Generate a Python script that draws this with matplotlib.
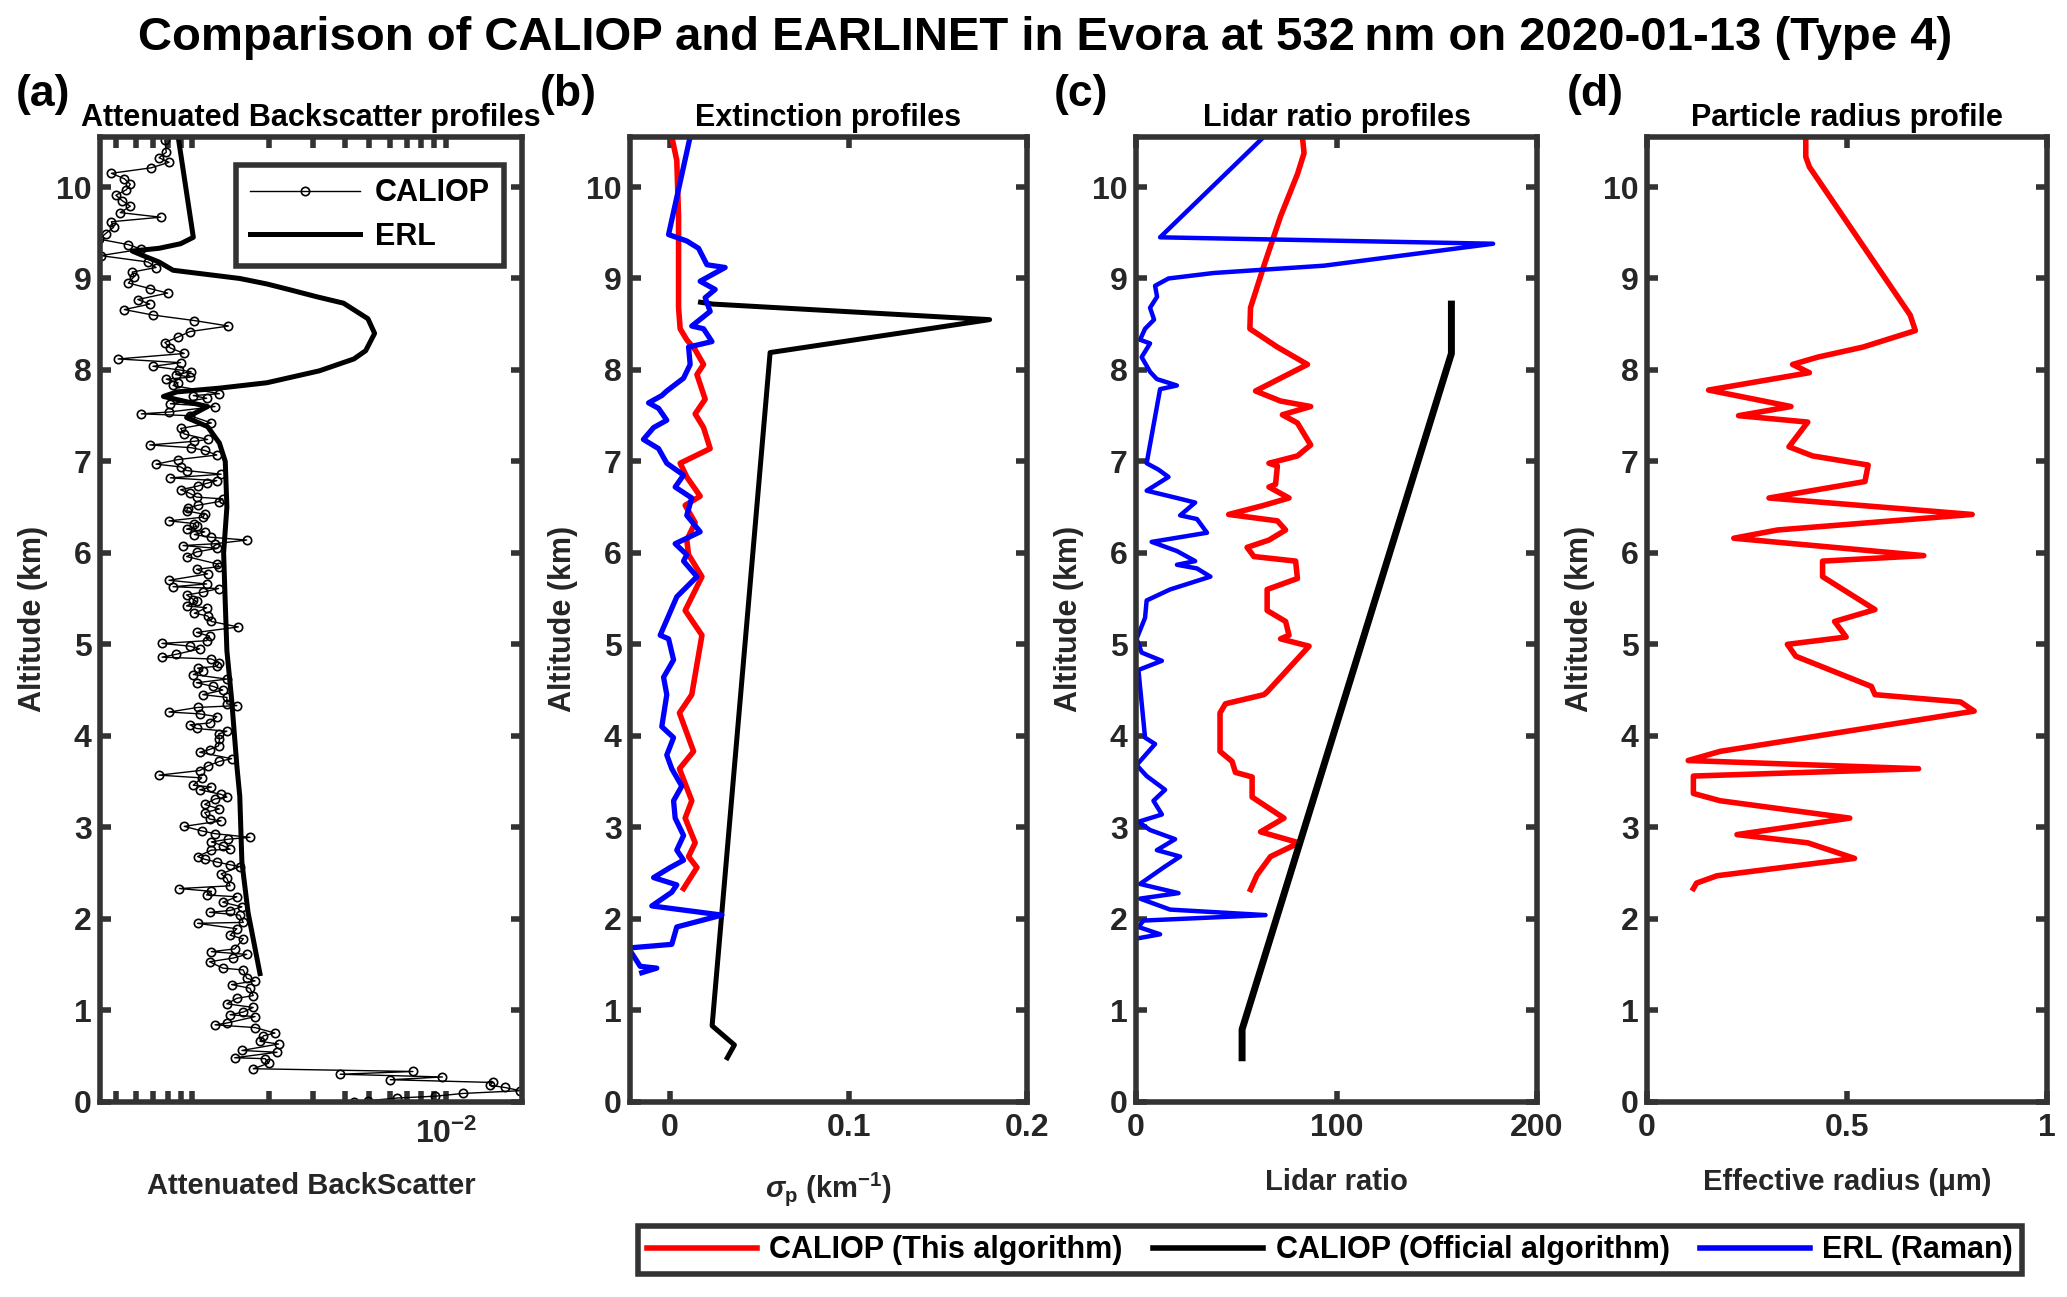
#!/usr/bin/env python3
"""
CALIOP vs EARLINET comparison at Evora, 532 nm, 2020-01-13 (Type 4).

Four profile panels: attenuated backscatter, extinction, lidar ratio and
effective radius. Saves out.png.
"""

import numpy as np
import matplotlib
matplotlib.use("Agg")  # headless-safe
import matplotlib.pyplot as plt
from matplotlib.lines import Line2D
from matplotlib.ticker import FixedLocator, NullFormatter

plt.rcParams["font.family"] = ["Liberation Sans", "DejaVu Sans"]
plt.rcParams["font.weight"] = "bold"
plt.rcParams["mathtext.fontset"] = "custom"
plt.rcParams["mathtext.rm"] = "Liberation Sans:bold"
plt.rcParams["mathtext.bf"] = "Liberation Sans:bold"
plt.rcParams["mathtext.it"] = "Liberation Sans:italic:bold"

AXIS_COLOR = "#333333"
TEXT_COLOR = "#262626"

# ---------------------------------------------------------------- panel (a)
# CALIOP attenuated backscatter, values in units of 1e-3
caliop_bsc_alt = [
    10.51, 10.38, 10.32, 10.27, 10.21, 10.15, 10.09, 10.03, 9.97, 9.91,
    9.85, 9.79, 9.72, 9.67, 9.62, 9.56, 9.49, 9.43, 9.37, 9.32,
    9.25, 9.18, 9.12, 9.07, 9.02, 8.95, 8.89, 8.84, 8.77, 8.72,
    8.66, 8.60, 8.54, 8.48, 8.42, 8.36, 8.30, 8.24, 8.18, 8.12,
    8.08, 8.04, 8.00, 7.98, 7.95, 7.92, 7.90, 7.86, 7.83, 7.74,
    7.72, 7.69, 7.63, 7.60, 7.54, 7.52, 7.50, 7.42, 7.36, 7.30,
    7.24, 7.22, 7.18, 7.15, 7.12, 7.07, 7.02, 6.97, 6.94, 6.90,
    6.86, 6.82, 6.79, 6.76, 6.73, 6.69, 6.65, 6.61, 6.59, 6.56,
    6.52, 6.49, 6.46, 6.42, 6.39, 6.35, 6.32, 6.29, 6.26, 6.23,
    6.20, 6.17, 6.14, 6.10, 6.08, 6.05, 6.01, 5.96, 5.88, 5.85,
    5.82, 5.77, 5.70, 5.66, 5.63, 5.61, 5.57, 5.54, 5.49, 5.47,
    5.42, 5.40, 5.34, 5.31, 5.25, 5.19, 5.13, 5.09, 5.04, 5.01,
    4.98, 4.95, 4.89, 4.86, 4.84, 4.80, 4.76, 4.74, 4.71, 4.67,
    4.62, 4.58, 4.54, 4.50, 4.45, 4.42, 4.35, 4.33, 4.31, 4.26,
    4.24, 4.21, 4.14, 4.12, 4.08, 4.05, 4.02, 3.96, 3.89, 3.85,
    3.82, 3.75, 3.72, 3.67, 3.62, 3.57, 3.54, 3.46, 3.44, 3.41,
    3.36, 3.33, 3.31, 3.25, 3.20, 3.16, 3.09, 3.07, 3.01, 2.96,
    2.93, 2.89, 2.87, 2.84, 2.80, 2.76, 2.75, 2.68, 2.65, 2.62,
    2.59, 2.57, 2.49, 2.44, 2.36, 2.33, 2.30, 2.26, 2.24, 2.18,
    2.13, 2.09, 2.07, 2.04, 1.96, 1.95, 1.89, 1.82, 1.78, 1.67,
    1.64, 1.61, 1.57, 1.53, 1.46, 1.44, 1.35, 1.32, 1.28, 1.24,
    1.16, 1.13, 1.07, 1.03, 0.98, 0.95, 0.93, 0.86, 0.84, 0.81,
    0.75, 0.72, 0.66, 0.63, 0.56, 0.54, 0.48, 0.47, 0.42, 0.36,
    0.33, 0.30, 0.27, 0.24, 0.21, 0.18, 0.155, 0.12, 0.09, 0.06,
    0.04, 0.01, 0.00,
]
caliop_bsc_val = [
    0.78, 0.79, 0.74, 0.81, 0.69, 0.48, 0.54, 0.57, 0.55, 0.50,
    0.53, 0.57, 0.52, 0.75, 0.48, 0.49, 0.455, 0.43, 0.56, 0.63,
    0.435, 0.67, 0.72, 0.58, 0.59, 0.56, 0.68, 0.80, 0.61, 0.68,
    0.54, 0.70, 1.02, 1.39, 0.98, 0.88, 0.78, 0.82, 0.93, 0.51,
    0.90, 0.70, 0.89, 0.99, 0.86, 0.98, 0.79, 0.88, 0.84, 1.28,
    1.01, 1.14, 0.82, 1.23, 0.81, 0.63, 0.98, 1.19, 0.90, 0.93,
    1.15, 1.02, 0.68, 0.99, 1.12, 1.25, 0.88, 0.72, 0.90, 0.95,
    1.30, 0.82, 1.25, 1.14, 1.05, 0.90, 0.98, 1.04, 1.32, 1.27,
    1.05, 0.96, 0.95, 1.12, 1.10, 0.81, 1.02, 1.04, 0.95, 1.12,
    1.02, 1.19, 1.64, 1.23, 0.92, 1.25, 1.04, 0.95, 1.25, 1.28,
    1.04, 1.15, 0.81, 1.14, 0.84, 1.27, 1.10, 0.95, 1.01, 1.04,
    0.95, 1.14, 1.02, 1.15, 1.19, 1.52, 1.04, 1.17, 1.14, 0.76,
    0.98, 1.07, 0.86, 0.76, 1.19, 1.28, 1.25, 1.05, 1.10, 1.01,
    1.37, 1.04, 1.21, 1.32, 1.10, 1.37, 1.37, 1.50, 1.05, 0.81,
    1.07, 1.25, 1.17, 0.98, 1.04, 1.37, 1.27, 1.28, 1.27, 1.17,
    1.07, 1.43, 1.28, 1.15, 1.07, 0.74, 1.09, 1.01, 1.19, 1.07,
    1.30, 1.37, 1.23, 1.12, 1.28, 1.12, 1.17, 1.30, 0.93, 1.09,
    1.23, 1.69, 1.39, 1.19, 1.32, 1.41, 1.19, 1.05, 1.12, 1.25,
    1.41, 1.54, 1.30, 1.37, 1.41, 0.89, 1.19, 1.14, 1.50, 1.32,
    1.57, 1.41, 1.17, 1.54, 1.59, 1.05, 1.50, 1.41, 1.59, 1.47,
    1.19, 1.64, 1.45, 1.17, 1.32, 1.59, 1.64, 1.77, 1.43, 1.69,
    1.74, 1.50, 1.37, 1.74, 1.59, 1.41, 1.77, 1.37, 1.23, 1.77,
    2.12, 1.91, 1.85, 2.19, 1.57, 2.16, 1.47, 1.94, 2.00, 1.74,
    7.42, 3.83, 9.70, 6.04, 15.3, 14.9, 17.1, 19.7, 11.7, 9.10,
    6.44, 4.93, 4.34,
]

# ERL attenuated backscatter, units of 1e-3
erl_bsc_alt = [
    10.55, 9.45, 9.38, 9.33, 9.30, 9.25, 9.18, 9.09, 9.05, 9.00,
    8.94, 8.88, 8.80, 8.73, 8.56, 8.40, 8.21, 8.12, 7.99, 7.86,
    7.80, 7.76, 7.71, 7.60, 7.48, 7.38, 7.20, 7.00, 6.50, 6.00,
    5.45, 4.93, 4.40, 3.67, 3.34, 2.62, 2.07, 1.40,
]
erl_bsc_val = [
    0.88, 1.01, 0.90, 0.74, 0.58, 0.64, 0.74, 0.84, 1.10, 1.54,
    1.97, 2.40, 3.10, 3.95, 4.93, 5.24, 4.83, 4.34, 3.17, 1.97,
    1.27, 0.87, 0.77, 1.15, 0.95, 1.15, 1.28, 1.35, 1.37, 1.33,
    1.35, 1.37, 1.43, 1.50, 1.54, 1.57, 1.66, 1.85,
]

# ---------------------------------------------------------------- panel (b)
ext_this_alt = [
    10.55, 10.29, 9.68, 8.68, 8.45, 8.33, 8.22, 8.06, 7.95, 7.68,
    7.52, 7.37, 7.14, 6.98, 6.83, 6.62, 6.52, 6.33, 6.14, 5.98,
    5.74, 5.37, 5.10, 4.45, 4.25, 3.83, 3.64, 3.29, 3.10, 2.83,
    2.68, 2.56, 2.33,
]
ext_this_val = [
    0.0009, 0.0037, 0.0047, 0.0047, 0.0056, 0.0093, 0.0140, 0.0187, 0.0150, 0.0196,
    0.0140, 0.0187, 0.0224, 0.0056, 0.0093, 0.0168, 0.0084, 0.0140, 0.0093, 0.0103,
    0.0178, 0.0084, 0.0178, 0.0121, 0.0052, 0.0131, 0.0052, 0.0121, 0.0084, 0.0140,
    0.0103, 0.0150, 0.0075,
]
ext_official_alt = [8.74, 8.72, 8.55, 8.19, 0.83, 0.62, 0.48]
ext_official_val = [0.017, 0.024, 0.179, 0.056, 0.0235, 0.036, 0.032]

ext_erl_alt = [
    10.55, 9.48, 9.41, 9.33, 9.15, 9.12, 8.97, 8.88, 8.79, 8.64,
    8.48, 8.45, 8.31, 8.25, 8.06, 7.91, 7.77, 7.72, 7.64, 7.58,
    7.45, 7.37, 7.24, 7.14, 6.98, 6.85, 6.72, 6.60, 6.41, 6.23,
    6.10, 5.98, 5.91, 5.74, 5.52, 5.10, 5.06, 4.83, 4.64, 4.45,
    4.10, 3.98, 3.79, 3.64, 3.45, 3.29, 3.10, 2.91, 2.75, 2.64,
    2.56, 2.45, 2.37, 2.29, 2.14, 2.04, 1.91, 1.72, 1.68, 1.48,
    1.46, 1.41,
]
ext_erl_val = [
    0.0112, -0.0009, 0.0093, 0.0159, 0.0206, 0.0308, 0.0168, 0.0252, 0.0196, 0.0224,
    0.0121, 0.0187, 0.0234, 0.0103, 0.0112, 0.0075, -0.0019, -0.0047, -0.0121, -0.0065,
    -0.0019, -0.0093, -0.0150, -0.0065, -0.0019, 0.0075, 0.0028, 0.0121, 0.0093, 0.0168,
    0.0028, 0.0093, 0.0075, 0.0150, 0.0037, -0.0056, -0.0009, 0.0019, -0.0037, -0.0019,
    -0.0047, 0.0019, -0.0019, 0.0009, 0.0065, 0.0019, 0.0028, 0.0075, 0.0037, 0.0075,
    0.0000, -0.0093, 0.0037, 0.0009, -0.0103, 0.0290, 0.0037, 0.0009, -0.0234, -0.0168,
    -0.0075, -0.0159,
]

# ---------------------------------------------------------------- panel (c)
lr_this_alt = [
    10.55, 10.37, 10.14, 9.68, 9.14, 8.68, 8.45, 8.25, 8.06, 7.77,
    7.66, 7.60, 7.51, 7.42, 7.18, 7.06, 6.98, 6.95, 6.75, 6.72,
    6.60, 6.52, 6.42, 6.35, 6.25, 6.14, 6.06, 5.96, 5.91, 5.72,
    5.60, 5.37, 5.25, 5.10, 5.06, 4.98, 4.48, 4.45, 4.35, 4.25,
    3.83, 3.72, 3.60, 3.55, 3.33, 3.10, 2.95, 2.83, 2.68, 2.48,
    2.32,
]
lr_this_val = [
    83.0, 83.8, 80.5, 72.1, 63.8, 57.1, 56.8, 70.5, 85.5, 59.6,
    72.1, 87.1, 73.0, 80.5, 87.1, 80.5, 66.3, 70.5, 69.6, 66.3,
    76.3, 63.8, 46.2, 70.5, 74.6, 66.3, 55.4, 58.8, 79.6, 80.5,
    65.4, 65.4, 74.6, 76.3, 72.1, 86.3, 65.4, 63.8, 44.6, 41.9,
    41.9, 47.9, 49.6, 57.9, 57.9, 73.8, 62.1, 81.3, 67.1, 60.4,
    57.1,
]
lr_official_alt = [8.72, 8.18, 0.79, 0.48]
lr_official_val = [157.3, 157.3, 52.9, 52.9]

lr_erl_alt = [
    10.55, 9.45, 9.38, 9.14, 9.06, 9.00, 8.92, 8.80, 8.68, 8.55,
    8.45, 8.33, 8.29, 8.14, 7.98, 7.90, 7.83, 7.79, 6.98, 6.91,
    6.83, 6.68, 6.60, 6.55, 6.41, 6.37, 6.22, 6.12, 6.02, 5.91,
    5.87, 5.83, 5.74, 5.60, 5.48, 5.29, 5.06, 4.91, 4.82, 4.72,
    3.98, 3.91, 3.68, 3.56, 3.41, 3.29, 3.14, 3.06, 2.97, 2.87,
    2.75, 2.68, 2.56, 2.38, 2.28, 2.22, 2.10, 2.04, 1.98, 1.91,
    1.83, 1.79,
]
lr_erl_val = [
    63.8, 12.0, 178.1, 93.8, 38.7, 16.2, 9.5, 10.5, 7.0, 9.0,
    4.5, 2.0, 7.0, 2.8, 7.0, 10.4, 20.4, 12.0, 5.3, 11.2,
    16.2, 5.3, 20.4, 29.5, 22.0, 30.4, 35.4, 7.8, 20.4, 29.5,
    20.4, 30.4, 37.1, 17.0, 5.3, 4.5, 0.3, 2.8, 12.9, 1.2,
    4.5, 9.5, 0.3, 5.3, 14.5, 8.7, 12.9, 1.2, 7.0, 19.5,
    10.4, 22.0, 13.7, 2.0, 21.2, 2.0, 17.0, 64.6, 3.7, 1.2,
    12.0, 2.0,
]

# ---------------------------------------------------------------- panel (d)
reff_alt = [
    10.55, 10.33, 10.22, 8.60, 8.43, 8.25, 8.14, 8.06, 7.97, 7.78,
    7.60, 7.50, 7.43, 7.16, 7.06, 6.96, 6.78, 6.60, 6.42, 6.25,
    6.16, 5.97, 5.91, 5.74, 5.38, 5.25, 5.08, 5.00, 4.87, 4.54,
    4.45, 4.37, 4.27, 3.83, 3.73, 3.64, 3.56, 3.37, 3.29, 3.10,
    2.92, 2.83, 2.66, 2.47, 2.39, 2.33,
]
reff_val = [
    0.397, 0.397, 0.406, 0.658, 0.671, 0.540, 0.427, 0.364, 0.406, 0.154,
    0.360, 0.229, 0.402, 0.355, 0.414, 0.553, 0.545, 0.305, 0.813, 0.326,
    0.217, 0.692, 0.439, 0.439, 0.570, 0.469, 0.498, 0.351, 0.372, 0.561,
    0.570, 0.784, 0.818, 0.183, 0.103, 0.679, 0.116, 0.116, 0.183, 0.507,
    0.225, 0.402, 0.519, 0.175, 0.124, 0.116,
]

y_ticks = list(range(0, 11))
y_top = 10.55

legend_labels = [
    "CALIOP (This algorithm)",
    "CALIOP (Official algorithm)",
    "ERL (Raman)",
]

TICK_SIZE = 23
LABEL_SIZE = 21
TITLE_SIZE = 22


def _style_axes(ax):
    ax.set_ylim(0, y_top)
    ax.set_yticks(y_ticks)
    for spine in ax.spines.values():
        spine.set_color(AXIS_COLOR)
        spine.set_linewidth(4)
    ax.tick_params(
        axis="both", which="both", direction="in",
        top=True, right=True, colors=AXIS_COLOR,
        labelcolor=TEXT_COLOR, labelsize=TICK_SIZE, width=4, length=8,
    )
    ax.tick_params(axis="x", which="both", pad=8)
    ax.tick_params(axis="y", which="both", pad=6)
    for lab in ax.get_xticklabels() + ax.get_yticklabels():
        lab.set_fontweight("bold")
    ax.set_ylabel("Altitude (km)", fontsize=22, fontweight="bold",
                  color=TEXT_COLOR, labelpad=6)


def main():
    fig = plt.figure(figsize=(20.67, 12.97), dpi=100)
    bottom, height = 0.1506, 0.744
    ax_a = fig.add_axes([0.0484, bottom, 0.2042, height])
    ax_b = fig.add_axes([0.3048, bottom, 0.1921, height])
    ax_c = fig.add_axes([0.5496, bottom, 0.1940, height])
    ax_d = fig.add_axes([0.7968, bottom, 0.1935, height])

    # (a) attenuated backscatter, log x axis
    ax_a.plot(np.array(caliop_bsc_val) * 1e-3, caliop_bsc_alt, color="black",
              linewidth=1.0, marker="o", markersize=6, markerfacecolor="none",
              markeredgewidth=1.2, label="CALIOP")
    ax_a.plot(np.array(erl_bsc_val) * 1e-3, erl_bsc_alt, color="black",
              linewidth=3.6, label="ERL")
    ax_a.set_xscale("log")
    ax_a.set_xlim(4.33e-4, 2.0e-2)
    ax_a.xaxis.set_major_locator(FixedLocator([1e-2]))
    ax_a.xaxis.set_minor_locator(FixedLocator(
        [k * 1e-4 for k in range(5, 10)] + [k * 1e-3 for k in range(1, 10)]))
    ax_a.xaxis.set_minor_formatter(NullFormatter())
    _style_axes(ax_a)
    ax_a.set_xticklabels([r"$\mathbf{10^{-2}}$"])
    ax_a.tick_params(axis="x", which="both", pad=12)
    ax_a.set_xlabel("Attenuated BackScatter", fontsize=LABEL_SIZE,
                    fontweight="bold", color=TEXT_COLOR, labelpad=16)
    ax_a.set_title("Attenuated Backscatter profiles", fontsize=TITLE_SIZE,
                   fontweight="bold", pad=8)
    leg = ax_a.legend(loc="upper right", bbox_to_anchor=(0.957, 0.971),
                      borderaxespad=0, fontsize=22, handlelength=3.6,
                      handletextpad=0.5, borderpad=0.45, labelspacing=0.45,
                      fancybox=False, framealpha=1, edgecolor=AXIS_COLOR)
    leg.get_frame().set_linewidth(4)
    for txt in leg.get_texts():
        txt.set_fontweight("bold")

    # (b) extinction
    ax_b.plot(ext_this_val, ext_this_alt, color="red", linewidth=4.0)
    ax_b.plot(ext_official_val, ext_official_alt, color="black", linewidth=3.6)
    ax_b.plot(ext_erl_val, ext_erl_alt, color="blue", linewidth=3.8)
    ax_b.set_xlim(-0.0225, 0.2)
    ax_b.set_xticks([0, 0.1, 0.2])
    _style_axes(ax_b)
    ax_b.set_xticklabels(["0", "0.1", "0.2"])
    ax_b.set_xlabel(r"$\sigma_\mathbf{p}$ (km$^{\mathbf{-1}}$)",
                    fontsize=LABEL_SIZE, fontweight="bold", color=TEXT_COLOR,
                    labelpad=20)
    ax_b.set_title("Extinction profiles", fontsize=TITLE_SIZE,
                   fontweight="bold", pad=8)

    # (c) lidar ratio
    ax_c.plot(lr_this_val, lr_this_alt, color="red", linewidth=4.0)
    ax_c.plot(lr_official_val, lr_official_alt, color="black", linewidth=5.0)
    ax_c.plot(lr_erl_val, lr_erl_alt, color="blue", linewidth=3.2)
    ax_c.set_xlim(0, 200)
    ax_c.set_xticks([0, 100, 200])
    _style_axes(ax_c)
    ax_c.set_xlabel("Lidar ratio", fontsize=LABEL_SIZE, fontweight="bold",
                    color=TEXT_COLOR, labelpad=18)
    ax_c.set_title("Lidar ratio profiles", fontsize=TITLE_SIZE,
                   fontweight="bold", pad=8)

    # (d) effective radius
    ax_d.plot(reff_val, reff_alt, color="red", linewidth=4.0)
    ax_d.set_xlim(0, 1)
    ax_d.set_xticks([0, 0.5, 1])
    _style_axes(ax_d)
    ax_d.set_xticklabels(["0", "0.5", "1"])
    ax_d.set_xlabel("Effective radius (\u03bcm)", fontsize=LABEL_SIZE,
                    fontweight="bold", color=TEXT_COLOR, labelpad=18)
    ax_d.set_title("Particle radius profile", fontsize=TITLE_SIZE,
                   fontweight="bold", pad=8)

    # panel letters
    for x, letter in zip([0.0077, 0.261, 0.510, 0.758], "abcd"):
        fig.text(x, 0.927, f"({letter})", fontsize=32, fontweight="bold",
                 ha="left", va="center")

    fig.suptitle("Comparison of CALIOP and EARLINET in Evora at 532\u2009nm "
                 "on 2020-01-13 (Type 4)", x=0.5056, y=0.971, fontsize=34,
                 fontweight="bold", va="center")

    handles = [
        Line2D([], [], color="red", linewidth=4),
        Line2D([], [], color="black", linewidth=4),
        Line2D([], [], color="blue", linewidth=4),
    ]
    fleg = fig.legend(handles, legend_labels, loc="center",
                      bbox_to_anchor=(0.6435, 0.036), ncol=3, fontsize=22,
                      handlelength=3.6, columnspacing=1.0, handletextpad=0.4,
                      fancybox=False, framealpha=1, edgecolor=AXIS_COLOR,
                      borderpad=0.3)
    fleg.get_frame().set_linewidth(4)
    for txt in fleg.get_texts():
        txt.set_fontweight("bold")

    fig.savefig("out.png", dpi=100)
    print("Saved out.png")


if __name__ == "__main__":
    main()
